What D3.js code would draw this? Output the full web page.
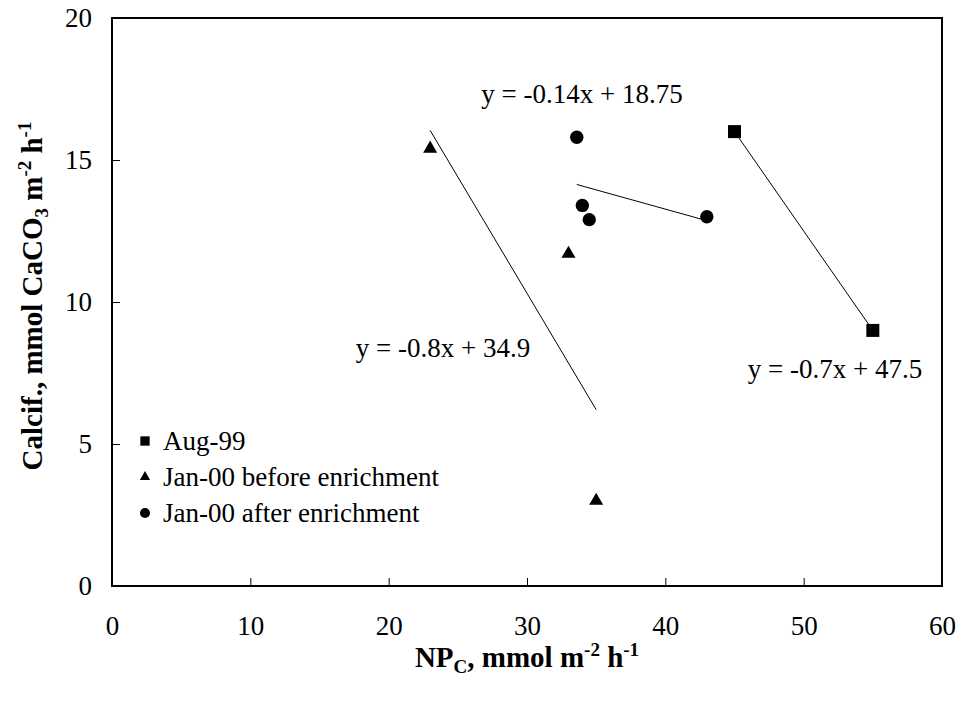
<!DOCTYPE html>
<html>
<head>
<meta charset="utf-8">
<script src="https://cdn.jsdelivr.net/npm/d3@7"></script>
<style>
  body { margin: 0; background: #fff; }
  text { font-family: "Liberation Serif", "Times New Roman", serif; fill: #000; }
</style>
</head>
<body>
<div id="chart"></div>
<script>
// series data
var aug99X = [45, 55];
var aug99Y = [16, 9];
var janBeforeX = [23, 33, 35];
var janBeforeY = [15.4, 11.7, 3];
var janAfterX = [33.6, 34, 34.5, 43];
var janAfterY = [15.8, 13.4, 12.9, 13];

var seriesNames = ["Aug-99", "Jan-00 before enrichment", "Jan-00 after enrichment"];
var fitLabels = ["y = -0.7x + 47.5", "y = -0.8x + 34.9", "y = -0.14x + 18.75"];

var xTicks = [0, 10, 20, 30, 40, 50, 60];
var yTicks = [0, 5, 10, 15, 20];

var W = 961, H = 704;
var m = { left: 112, top: 18, right: 19, bottom: 118 };

var svg = d3.select("#chart").append("svg")
  .attr("width", W)
  .attr("height", H);

var x = d3.scaleLinear().domain([0, 60]).range([m.left, W - m.right]);
var y = d3.scaleLinear().domain([0, 20]).range([H - m.bottom, m.top]);

// least squares trend line of a series
function fit(xs, ys){
  var mx = d3.mean(xs), my = d3.mean(ys);
  var sxy = d3.sum(xs, function(d, i){ return (d - mx) * (ys[i] - my); });
  var sxx = d3.sum(xs, function(d){ return (d - mx) * (d - mx); });
  var b = sxy / sxx;
  return { b: b, a: my - b * mx };
}

var xAxis = svg.append("g")
  .attr("transform", "translate(0," + y(0) + ")")
  .call(d3.axisBottom(x).tickValues(xTicks).tickSize(-8).tickPadding(30).tickFormat(d3.format("d")));
var yAxis = svg.append("g")
  .attr("transform", "translate(" + x(0) + ",0)")
  .call(d3.axisLeft(y).tickValues(yTicks).tickSize(-8).tickPadding(20).tickFormat(d3.format("d")));

[xAxis, yAxis].forEach(function(g){
  g.select(".domain").remove();
  g.selectAll("line").attr("stroke", "#000").attr("stroke-width", 1);
  g.selectAll("text").attr("font-size", 27).attr("font-family", "Liberation Serif");
});

// frame
svg.append("rect")
  .attr("x", x(0)).attr("y", y(20))
  .attr("width", x(60) - x(0)).attr("height", y(0) - y(20))
  .attr("fill", "none").attr("stroke", "#000").attr("stroke-width", 2);

var series = [
  { name: seriesNames[0], xs: aug99X, ys: aug99Y, sym: d3.symbolSquare, size: 169, lsize: 87 },
  { name: seriesNames[1], xs: janBeforeX, ys: janBeforeY, sym: d3.symbolTriangle, size: 85, lsize: 45 },
  { name: seriesNames[2], xs: janAfterX, ys: janAfterY, sym: d3.symbolCircle, size: 140, lsize: 80 }
];

// trend lines over each series' x range
series.forEach(function(s){
  var f = fit(s.xs, s.ys);
  var x0 = d3.min(s.xs), x1 = d3.max(s.xs);
  svg.append("line")
    .attr("x1", x(x0)).attr("y1", y(f.a + f.b * x0))
    .attr("x2", x(x1)).attr("y2", y(f.a + f.b * x1))
    .attr("stroke", "#000").attr("stroke-width", 1);
});

series.forEach(function(s){
  svg.append("g").selectAll("path")
    .data(s.xs)
    .enter()
    .append("path")
    .attr("d", d3.symbol().type(s.sym).size(s.size))
    .attr("transform", function(d, i){ return "translate(" + x(d) + "," + y(s.ys[i]) + ")"; })
    .attr("fill", "#000");
});

// equation labels
var eqPos = [[835, 378], [443, 357], [582, 103]];
fitLabels.forEach(function(t, i){
  svg.append("text")
    .attr("x", eqPos[i][0]).attr("y", eqPos[i][1])
    .attr("text-anchor", "middle")
    .attr("font-size", 27)
    .text(t);
});

// legend
var legend = svg.append("g").attr("transform", "translate(145,441)");
series.forEach(function(s, i){
  var row = legend.append("g").attr("transform", "translate(0," + (i * 36) + ")");
  row.append("path")
    .attr("d", d3.symbol().type(s.sym).size(s.lsize))
    .attr("fill", "#000");
  row.append("text")
    .attr("x", 18).attr("y", 9)
    .attr("font-size", 27)
    .text(s.name);
});

// axis titles
var xt = svg.append("text")
  .attr("x", (x(0) + x(60)) / 2).attr("y", 667)
  .attr("text-anchor", "middle")
  .attr("font-size", 29).attr("font-weight", "bold");
xt.append("tspan").text("NP");
xt.append("tspan").attr("font-size", 19).attr("dy", 6).text("C");
xt.append("tspan").attr("dy", -6).text(", mmol m");
xt.append("tspan").attr("font-size", 19).attr("dy", -11).text("-2");
xt.append("tspan").attr("dy", 11).text(" h");
xt.append("tspan").attr("font-size", 19).attr("dy", -11).text("-1");

var yt = svg.append("text")
  .attr("transform", "translate(42," + (y(10) - 6) + ") rotate(-90)")
  .attr("text-anchor", "middle")
  .attr("font-size", 29).attr("font-weight", "bold");
yt.append("tspan").text("Calcif., mmol CaCO");
yt.append("tspan").attr("font-size", 19).attr("dy", 6).text("3");
yt.append("tspan").attr("dy", -6).text(" m");
yt.append("tspan").attr("font-size", 19).attr("dy", -11).text("-2");
yt.append("tspan").attr("dy", 11).text(" h");
yt.append("tspan").attr("font-size", 19).attr("dy", -11).text("-1");
</script>
</body>
</html>
